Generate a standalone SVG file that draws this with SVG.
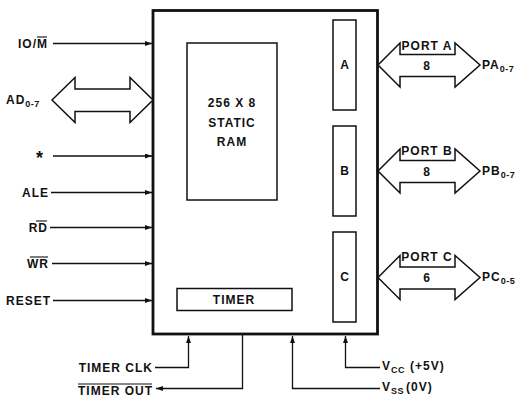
<svg xmlns="http://www.w3.org/2000/svg" width="523" height="398" viewBox="0 0 523 398">
<style>
text{font-family:"Liberation Sans",Arial,sans-serif;font-size:12px;font-weight:bold;fill:#111;letter-spacing:1px}
.sub{font-size:9px;letter-spacing:0.5px}
.mid{text-anchor:middle}
.end{text-anchor:end}
.box{fill:#fff;stroke:#111;stroke-width:1.5}
.main{fill:#fff;stroke:#111;stroke-width:2.8}
.bus{fill:#fff;stroke:#111;stroke-width:1.5;stroke-linejoin:miter}
.wire{fill:none;stroke:#111;stroke-width:1.3}
.ov{stroke:#111;stroke-width:1.1}
</style>
<defs>
<marker id="ah" markerUnits="userSpaceOnUse" markerWidth="8" markerHeight="6" refX="7" refY="2.5" orient="auto">
<path d="M0,0 L7,2.5 L0,5 z" fill="#111"/>
</marker>
</defs>
<g id="chip">
<rect class="main" x="153" y="10.5" width="224.5" height="323.5"/>
</g>
<g id="ram">
<rect class="box" x="187" y="43" width="90" height="157"/>
<text class="mid" x="232" y="107">256 X 8</text>
<text class="mid" x="232" y="127">STATIC</text>
<text class="mid" x="232" y="146">RAM</text>
</g>
<g id="portA">
<rect class="box" x="333" y="20" width="23" height="90"/>
<text class="mid" x="345" y="69">A</text>
</g>
<g id="portB">
<rect class="box" x="333" y="126" width="23" height="90"/>
<text class="mid" x="345" y="175">B</text>
</g>
<g id="portC">
<rect class="box" x="333" y="232" width="23" height="90"/>
<text class="mid" x="345" y="281">C</text>
</g>
<g id="timer">
<rect class="box" x="177" y="288.5" width="115" height="22"/>
<text class="mid" x="234" y="304">TIMER</text>
</g>
<g id="connectors">
<line class="wire" x1="53" y1="43.5" x2="152" y2="43.5" marker-end="url(#ah)"/>
<line class="wire" x1="53" y1="156" x2="152" y2="156" marker-end="url(#ah)"/>
<line class="wire" x1="51" y1="192.5" x2="152" y2="192.5" marker-end="url(#ah)"/>
<line class="wire" x1="50" y1="227.5" x2="152" y2="227.5" marker-end="url(#ah)"/>
<line class="wire" x1="52" y1="263.5" x2="152" y2="263.5" marker-end="url(#ah)"/>
<line class="wire" x1="53" y1="300.5" x2="152" y2="300.5" marker-end="url(#ah)"/>
<polygon class="bus" points="52,100 75,77.5 75,89 130,89 130,77.5 153,100 130,122.5 130,111.5 75,111.5 75,122.5"/>
<polygon class="bus" points="378,65 400,43 400,54.5 455,54.5 455,43 480,65 455,87 455,76.5 400,76.5 400,87"/>
<polygon class="bus" points="378,171 400,149 400,160.5 455,160.5 455,149 480,171 455,193 455,182.5 400,182.5 400,193"/>
<polygon class="bus" points="378,277.5 400,255.5 400,267 455,267 455,255.5 480,277.5 455,299.5 455,289 400,289 400,299.5"/>
<polyline class="wire" points="155,367.5 188.5,367.5 188.5,336" marker-end="url(#ah)"/>
<polyline class="wire" points="242.5,335 242.5,388.5 156,388.5" marker-end="url(#ah)"/>
<polyline class="wire" points="380,388.5 292.5,388.5 292.5,336" marker-end="url(#ah)"/>
<polyline class="wire" points="380,367.5 345.5,367.5 345.5,336" marker-end="url(#ah)"/>
</g>
<g id="labels">
<text class="end" x="48" y="47.5">IO/M</text>
<line class="ov" x1="37" y1="37" x2="47" y2="37"/>
<text x="6" y="104">AD<tspan class="sub" dy="3">0-7</tspan></text>
<text class="mid" x="40" y="164" style="font-size:18px">*</text>
<text class="end" x="49" y="196.5">ALE</text>
<text class="end" x="48" y="231.5">RD</text>
<line class="ov" x1="36" y1="221" x2="47" y2="221"/>
<text class="end" x="49" y="267.5">WR</text>
<line class="ov" x1="30" y1="257" x2="48" y2="257"/>
<text class="end" x="51" y="304.5">RESET</text>
<text class="mid" x="427" y="50">PORT A</text>
<text class="mid" x="427" y="69.5">8</text>
<text x="482" y="69">PA<tspan class="sub" dy="3">0-7</tspan></text>
<text class="mid" x="427" y="155">PORT B</text>
<text class="mid" x="427" y="175.5">8</text>
<text x="482" y="175">PB<tspan class="sub" dy="3">0-7</tspan></text>
<text class="mid" x="427" y="261">PORT C</text>
<text class="mid" x="427" y="282">6</text>
<text x="482" y="281">PC<tspan class="sub" dy="3">0-5</tspan></text>
<text class="end" x="153" y="372">TIMER CLK</text>
<text class="end" x="153" y="395">TIMER OUT</text>
<line class="ov" x1="78" y1="384" x2="152" y2="384"/>
<text x="382" y="370">V<tspan class="sub" dy="3">CC</tspan><tspan dx="5" dy="-3">(+5V)</tspan></text>
<text x="382" y="391">V<tspan class="sub" dy="3">SS</tspan><tspan dx="2" dy="-3">(0V)</tspan></text>
</g>
</svg>
